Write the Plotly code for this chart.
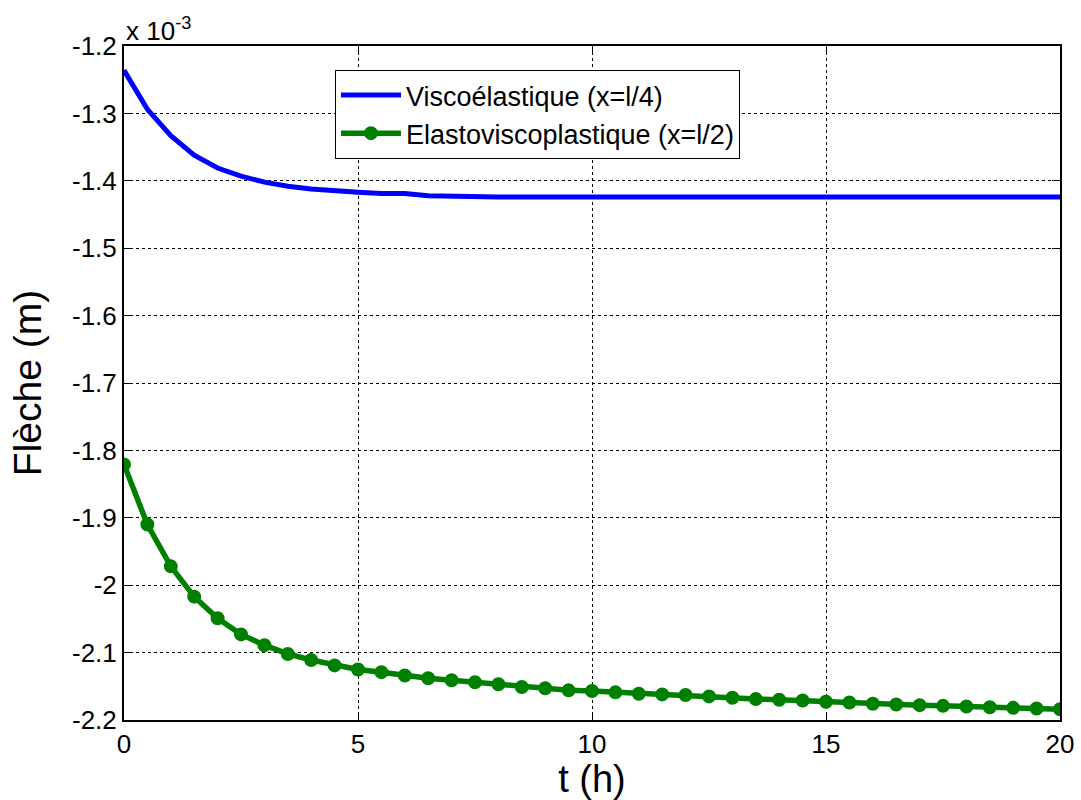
import plotly.graph_objects as go

# time (h)
t = [i * 0.5 for i in range(41)]

# deflection values in units of 1e-3 m
visco = [-1.236, -1.294, -1.333, -1.362, -1.381, -1.393, -1.402, -1.408, -1.412, -1.415,
         -1.417, -1.419, -1.419, -1.422, -1.423, -1.423, -1.424, -1.424, -1.424, -1.424,
         -1.424, -1.424, -1.424, -1.424, -1.424, -1.424, -1.424, -1.424, -1.424, -1.424,
         -1.424, -1.424, -1.424, -1.424, -1.424, -1.424, -1.424, -1.424, -1.424, -1.424,
         -1.424]
elasto = [-1.821, -1.910, -1.972, -2.017, -2.049, -2.073, -2.089, -2.102, -2.111, -2.119,
          -2.125, -2.129, -2.134, -2.138, -2.141, -2.144, -2.147, -2.151, -2.153, -2.156,
          -2.157, -2.159, -2.161, -2.162, -2.163, -2.165, -2.167, -2.169, -2.170, -2.171,
          -2.173, -2.174, -2.176, -2.177, -2.178, -2.179, -2.180, -2.181, -2.182, -2.183,
          -2.184]

x_ticks = [0, 5, 10, 15, 20]
y_ticks = [-1.2, -1.3, -1.4, -1.5, -1.6, -1.7, -1.8, -1.9, -2.0, -2.1, -2.2]
y_ticktext = ["-1.2", "-1.3", "-1.4", "-1.5", "-1.6", "-1.7", "-1.8", "-1.9", "-2", "-2.1", "-2.2"]

FONT = "Liberation Sans, Arial, sans-serif"

fig = go.Figure()
fig.add_trace(go.Scatter(x=t, y=visco, mode="lines", name="Viscoélastique (x=l/4)",
                         line=dict(color="#0000ff", width=5)))
fig.add_trace(go.Scatter(x=t, y=elasto, mode="lines+markers", name="Elastoviscoplastique (x=l/2)",
                         line=dict(color="#008000", width=5.5),
                         marker=dict(color="#008000", size=12, line=dict(color="#008000", width=2))))

axis_common = dict(showline=True, linecolor="black", linewidth=2, mirror="ticks",
                   ticks="inside", ticklen=8, tickcolor="black", tickwidth=1,
                   showgrid=True, gridcolor="black", gridwidth=1, griddash="dot",
                   zeroline=False, automargin=False,
                   tickfont=dict(family=FONT, size=26, color="black"))

fig.update_xaxes(range=[0, 20], tickvals=x_ticks, ticktext=[str(v) for v in x_ticks],
                 title=dict(text="t (h)", font=dict(family=FONT, size=38, color="black"), standoff=0),
                 **axis_common)
fig.update_yaxes(range=[-2.2, -1.2], tickvals=y_ticks, ticktext=y_ticktext,
                 title=dict(text="Flèche (m)", font=dict(family=FONT, size=39, color="black"), standoff=18),
                 **axis_common)

fig.add_annotation(text="x 10<sup>-3</sup>", xref="paper", yref="paper", x=0, y=1,
                   xanchor="left", yanchor="bottom", showarrow=False,
                   font=dict(family=FONT, size=26, color="black"), yshift=-2)

fig.update_layout(
    width=1081, height=800,
    margin=dict(l=124, r=21, t=46, b=80),
    paper_bgcolor="white", plot_bgcolor="white",
    showlegend=True,
    legend=dict(x=0.2254, y=0.9644, xanchor="left", yanchor="top",
                bgcolor="white", bordercolor="black", borderwidth=1,
                font=dict(family=FONT, size=27, color="black"),
                itemwidth=60, tracegroupgap=0),
)

fig.write_html("out.html", config={"displayModeBar": False},
               post_script="document.body.style.margin='0px';")
